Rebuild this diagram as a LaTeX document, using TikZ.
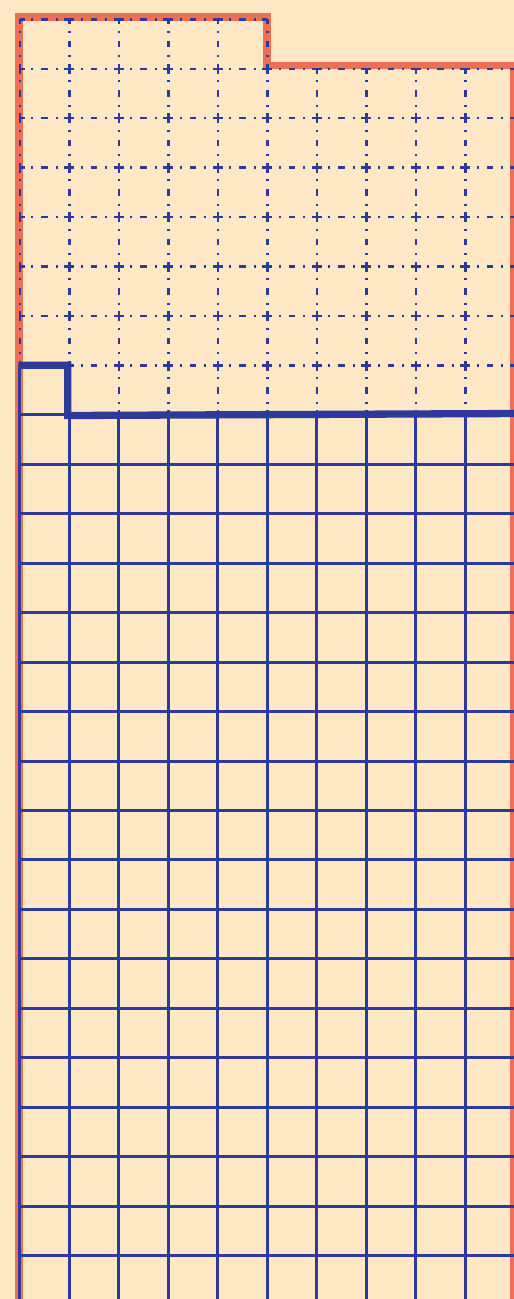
\documentclass[tikz,border=0pt]{standalone}
\definecolor{bgc}{HTML}{FFE8C6}
\definecolor{orc}{HTML}{EE6F55}
\definecolor{blc}{HTML}{2E3A9B}
\tikzset{
 dashgrid/.style={blc, line width=2.4pt, dash pattern=on 10pt off 6.6pt on 2pt off 7.85pt on 6.6pt off 7.85pt on 2pt off 6.6pt, dash phase=5pt},
 solidgrid/.style={blc, line width=3pt},
 boundary/.style={blc, line width=7.3pt, line join=miter},
 outline/.style={orc, line width=7.4pt, line join=miter},
}
\begin{document}
\begin{tikzpicture}[x=1pt,y=-1pt]
\useasboundingbox (0,0) rectangle (514,1299);
\fill[bgc] (0,0) rectangle (514,1299);
\clip (0,0) rectangle (514,1299);
% orange outline
\draw[outline] (18.8,1310) -- (18.8,17) -- (267,17) -- (267,65.3) -- (514,65.3) -- (514,1310);
% dashed grid (upper part)
\draw[dashgrid] (19.8,19.3) -- (19.8,365.45);
\foreach \i in {1,...,5} \draw[dashgrid] ({19.8+\i*49.5},19.3) -- ({19.8+\i*49.5},414.9);
\foreach \i in {6,...,9} \draw[dashgrid] ({19.8+\i*49.5},68.75) -- ({19.8+\i*49.5},414.9);
\draw[dashgrid] (19.8,19.3) -- (267.3,19.3);
\foreach \j in {1,...,7} \draw[dashgrid] (19.8,{19.3+\j*49.45}) -- (530,{19.3+\j*49.45});
% solid grid (lower part)
\draw[solidgrid] (19.8,365.45) -- (19.8,1310);
\foreach \i in {1,...,9} \draw[solidgrid] ({19.8+\i*49.5},414.9) -- ({19.8+\i*49.5},1310);
\foreach \j in {8,...,25} \draw[solidgrid] (19.8,{19.3+\j*49.45}) -- (530,{19.3+\j*49.45});
% thick boundary
\draw[boundary] (18.3,365.3) -- (67.8,365.3) -- (67.8,415.5) -- (520,413.5);
\end{tikzpicture}
\end{document}
